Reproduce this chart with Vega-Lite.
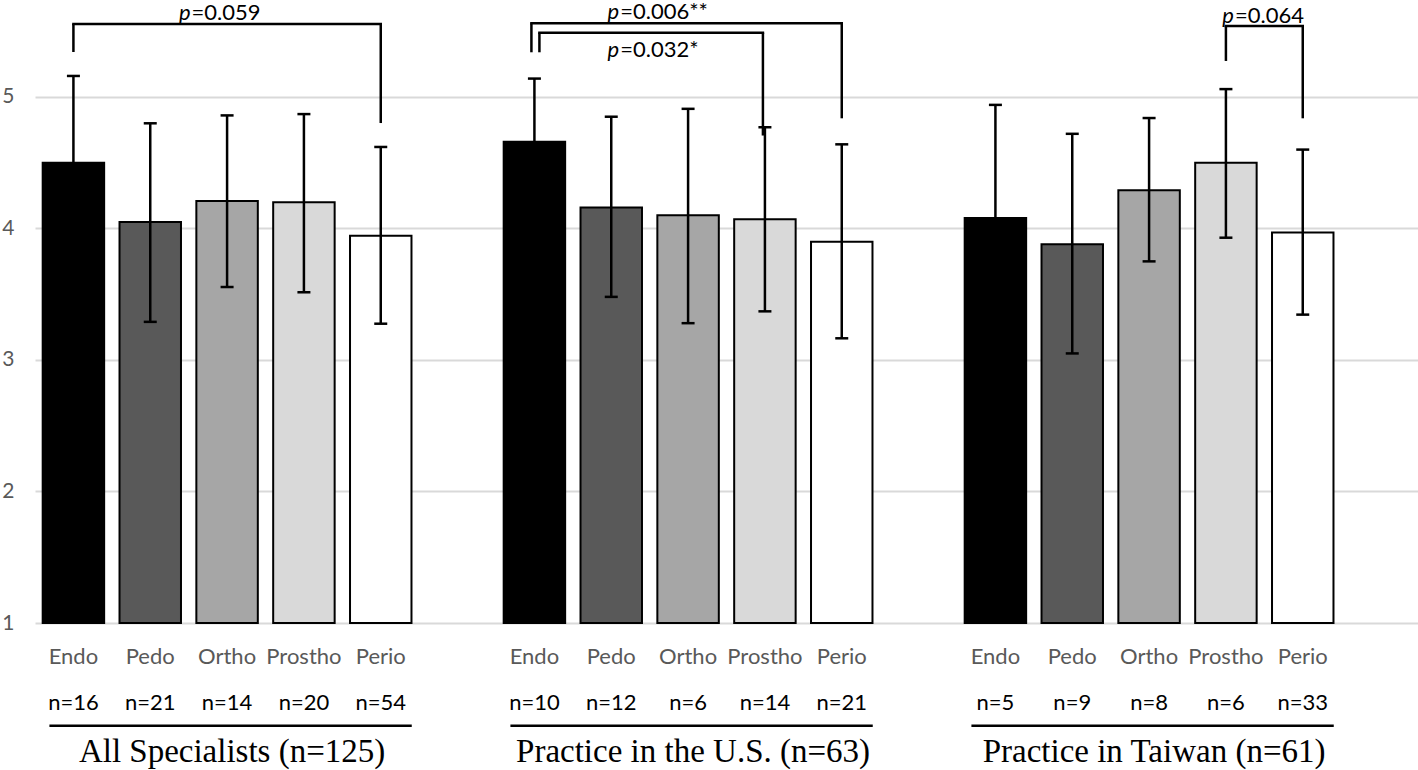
{
  "$schema": "https://vega.github.io/schema/vega-lite/v6.json",
  "width": 1383,
  "height": 623,
  "autosize": {"type": "none"},
  "padding": {"left": 35, "top": 0, "right": 0, "bottom": 147},
  "background": "white",
  "config": {"view": {"stroke": null}, "font": "Lato"},
  "datasets": {
    "bars": [
      {"group": "All Specialists", "specialty": "Endo", "n": 16, "mean": 4.50, "lo": 3.84, "hi": 5.16},
      {"group": "All Specialists", "specialty": "Pedo", "n": 21, "mean": 4.05, "lo": 3.29, "hi": 4.80},
      {"group": "All Specialists", "specialty": "Ortho", "n": 14, "mean": 4.21, "lo": 3.555, "hi": 4.86},
      {"group": "All Specialists", "specialty": "Prostho", "n": 20, "mean": 4.20, "lo": 3.515, "hi": 4.87},
      {"group": "All Specialists", "specialty": "Perio", "n": 54, "mean": 3.945, "lo": 3.276, "hi": 4.62},
      {"group": "Practice in the U.S.", "specialty": "Endo", "n": 10, "mean": 4.66, "lo": 4.18, "hi": 5.14},
      {"group": "Practice in the U.S.", "specialty": "Pedo", "n": 12, "mean": 4.16, "lo": 3.48, "hi": 4.85},
      {"group": "Practice in the U.S.", "specialty": "Ortho", "n": 6, "mean": 4.10, "lo": 3.28, "hi": 4.91},
      {"group": "Practice in the U.S.", "specialty": "Prostho", "n": 14, "mean": 4.07, "lo": 3.37, "hi": 4.77},
      {"group": "Practice in the U.S.", "specialty": "Perio", "n": 21, "mean": 3.90, "lo": 3.165, "hi": 4.64},
      {"group": "Practice in Taiwan", "specialty": "Endo", "n": 5, "mean": 4.08, "lo": 3.21, "hi": 4.94},
      {"group": "Practice in Taiwan", "specialty": "Pedo", "n": 9, "mean": 3.88, "lo": 3.05, "hi": 4.72},
      {"group": "Practice in Taiwan", "specialty": "Ortho", "n": 8, "mean": 4.29, "lo": 3.75, "hi": 4.84},
      {"group": "Practice in Taiwan", "specialty": "Prostho", "n": 6, "mean": 4.50, "lo": 3.93, "hi": 5.06},
      {"group": "Practice in Taiwan", "specialty": "Perio", "n": 33, "mean": 3.97, "lo": 3.345, "hi": 4.60}
    ],
    "groups": [
      {"group": "All Specialists", "title": "All Specialists (n=125)", "first": "All Specialists|Endo", "mid": "All Specialists|Ortho", "last": "All Specialists|Perio"},
      {"group": "Practice in the U.S.", "title": "Practice in the U.S. (n=63)", "first": "Practice in the U.S.|Endo", "mid": "Practice in the U.S.|Ortho", "last": "Practice in the U.S.|Perio"},
      {"group": "Practice in Taiwan", "title": "Practice in Taiwan (n=61)", "first": "Practice in Taiwan|Endo", "mid": "Practice in Taiwan|Ortho", "last": "Practice in Taiwan|Perio"}
    ],
    "brackets": [
      {"group": "All Specialists", "shift": "none", "from": "All Specialists|Endo", "to": "All Specialists|Perio", "top": 5.555, "fromEnd": 5.342, "toEnd": 4.802, "label": "=0.059", "textAt": "All Specialists|Ortho", "textY": 5.588},
      {"group": "Practice in the U.S.", "shift": "outer", "from": "Practice in the U.S.|Endo", "to": "Practice in the U.S.|Perio", "top": 5.560, "fromEnd": 5.340, "toEnd": 4.838, "label": "=0.006**", "textAt": "Practice in the U.S.|Pedo", "textY": 5.592},
      {"group": "Practice in the U.S.", "shift": "inner", "from": "Practice in the U.S.|Endo", "to": "Practice in the U.S.|Prostho", "top": 5.489, "fromEnd": 5.340, "toEnd": 4.707, "label": "=0.032*", "textAt": "Practice in the U.S.|Pedo", "textY": 5.307},
      {"group": "Practice in Taiwan", "shift": "none", "from": "Practice in Taiwan|Prostho", "to": "Practice in Taiwan|Perio", "top": 5.540, "fromEnd": 5.274, "toEnd": 4.838, "label": "=0.064", "textAt": "Practice in Taiwan|Prostho", "textY": 5.565}
    ]
  },
  "layer": [
    {
      "data": {"name": "bars"},
      "transform": [{"calculate": "datum.group + '|' + datum.specialty", "as": "key"}],
      "layer": [
        {
          "mark": {"type": "bar", "stroke": "black", "strokeWidth": 2},
          "encoding": {
            "x": {"field": "key", "type": "nominal", "axis": null, "sort": null,
              "scale": {"domain": ["All Specialists|Endo","All Specialists|Pedo","All Specialists|Ortho","All Specialists|Prostho","All Specialists|Perio","gap1","Practice in the U.S.|Endo","Practice in the U.S.|Pedo","Practice in the U.S.|Ortho","Practice in the U.S.|Prostho","Practice in the U.S.|Perio","gap2","Practice in Taiwan|Endo","Practice in Taiwan|Pedo","Practice in Taiwan|Ortho","Practice in Taiwan|Prostho","Practice in Taiwan|Perio","gap3"], "paddingInner": 0.2, "paddingOuter": 0.1}},
            "y": {"field": "mean", "type": "quantitative",
              "scale": {"domain": [1, 5.7376], "nice": false, "zero": false},
              "axis": {"values": [1, 2, 3, 4, 5], "format": "d", "grid": true, "gridColor": "#d9d9d9", "gridWidth": 2, "domain": false, "ticks": false, "labelColor": "#595959", "labelFontSize": 21, "labelFont": "Lato", "labelPadding": 21, "title": null}},
            "y2": {"datum": 1},
            "color": {"field": "specialty", "type": "nominal", "legend": null,
              "scale": {"domain": ["Endo", "Pedo", "Ortho", "Prostho", "Perio"], "range": ["#000000", "#595959", "#a6a6a6", "#d9d9d9", "#ffffff"]}}
          }
        },
        {
          "mark": {"type": "rule", "color": "black", "strokeWidth": 2.5},
          "encoding": {
            "x": {"field": "key", "type": "nominal"},
            "y": {"field": "lo", "type": "quantitative"},
            "y2": {"field": "hi"}
          }
        },
        {
          "mark": {"type": "rule", "color": "black", "strokeWidth": 2.5, "xOffset": -6.5, "x2Offset": 6.5},
          "encoding": {
            "x": {"field": "key", "type": "nominal"},
            "x2": {"field": "key"},
            "y": {"field": "hi", "type": "quantitative"}
          }
        },
        {
          "mark": {"type": "rule", "color": "black", "strokeWidth": 2.5, "xOffset": -6.5, "x2Offset": 6.5},
          "encoding": {
            "x": {"field": "key", "type": "nominal"},
            "x2": {"field": "key"},
            "y": {"field": "lo", "type": "quantitative"}
          }
        },
        {
          "mark": {"type": "text", "baseline": "alphabetic", "align": "center", "fontSize": 22, "color": "#595959", "font": "Lato"},
          "encoding": {
            "x": {"field": "key", "type": "nominal"},
            "y": {"datum": 0.688},
            "text": {"field": "specialty"}
          }
        },
        {
          "transform": [{"calculate": "'n=' + datum.n", "as": "nLabel"}],
          "mark": {"type": "text", "baseline": "alphabetic", "align": "center", "fontSize": 22, "color": "black", "font": "Lato"},
          "encoding": {
            "x": {"field": "key", "type": "nominal"},
            "y": {"datum": 0.338},
            "text": {"field": "nLabel"}
          }
        }
      ]
    },
    {
      "data": {"name": "groups"},
      "layer": [
        {
          "mark": {"type": "rule", "color": "black", "strokeWidth": 2.5, "xOffset": -24, "x2Offset": 31},
          "encoding": {
            "x": {"field": "first", "type": "nominal"},
            "x2": {"field": "last"},
            "y": {"datum": 0.219}
          }
        },
        {
          "mark": {"type": "text", "baseline": "alphabetic", "align": "center", "fontSize": 33, "color": "black", "font": "Liberation Serif", "dx": 5},
          "encoding": {
            "x": {"field": "mid", "type": "nominal"},
            "y": {"datum": -0.0548},
            "text": {"field": "title"}
          }
        }
      ]
    },
    {
      "data": {"name": "brackets"},
      "layer": [
        {
          "transform": [{"filter": "datum.shift == 'none'"}],
          "mark": {"type": "rule", "color": "black", "strokeWidth": 2.5, "strokeCap": "square"},
          "encoding": {"x": {"field": "from", "type": "nominal"}, "x2": {"field": "to"}, "y": {"field": "top", "type": "quantitative"}}
        },
        {
          "transform": [{"filter": "datum.shift == 'none'"}],
          "mark": {"type": "rule", "color": "black", "strokeWidth": 2.5},
          "encoding": {"x": {"field": "from", "type": "nominal"}, "y": {"field": "top", "type": "quantitative"}, "y2": {"field": "fromEnd"}}
        },
        {
          "transform": [{"filter": "datum.shift == 'outer'"}],
          "mark": {"type": "rule", "color": "black", "strokeWidth": 2.5, "strokeCap": "square", "xOffset": -3},
          "encoding": {"x": {"field": "from", "type": "nominal"}, "x2": {"field": "to"}, "y": {"field": "top", "type": "quantitative"}}
        },
        {
          "transform": [{"filter": "datum.shift == 'outer'"}],
          "mark": {"type": "rule", "color": "black", "strokeWidth": 2.5, "xOffset": -3},
          "encoding": {"x": {"field": "from", "type": "nominal"}, "y": {"field": "top", "type": "quantitative"}, "y2": {"field": "fromEnd"}}
        },
        {
          "transform": [{"filter": "datum.shift == 'inner'"}],
          "mark": {"type": "rule", "color": "black", "strokeWidth": 2.5, "strokeCap": "square", "xOffset": 5, "x2Offset": -2},
          "encoding": {"x": {"field": "from", "type": "nominal"}, "x2": {"field": "to"}, "y": {"field": "top", "type": "quantitative"}}
        },
        {
          "transform": [{"filter": "datum.shift == 'inner'"}],
          "mark": {"type": "rule", "color": "black", "strokeWidth": 2.5, "xOffset": 5},
          "encoding": {"x": {"field": "from", "type": "nominal"}, "y": {"field": "top", "type": "quantitative"}, "y2": {"field": "fromEnd"}}
        },
        {
          "transform": [{"filter": "datum.shift != 'inner'"}],
          "mark": {"type": "rule", "color": "black", "strokeWidth": 2.5},
          "encoding": {"x": {"field": "to", "type": "nominal"}, "y": {"field": "top", "type": "quantitative"}, "y2": {"field": "toEnd"}}
        },
        {
          "transform": [{"filter": "datum.shift == 'inner'"}],
          "mark": {"type": "rule", "color": "black", "strokeWidth": 2.5, "xOffset": -2},
          "encoding": {"x": {"field": "to", "type": "nominal"}, "y": {"field": "top", "type": "quantitative"}, "y2": {"field": "toEnd"}}
        },
        {
          "transform": [{"filter": "datum.group == 'All Specialists'"}],
          "mark": {"type": "text", "baseline": "alphabetic", "align": "right", "fontSize": 22, "fontStyle": "italic", "color": "black", "font": "Lato", "dx": -36.5},
          "encoding": {"x": {"field": "textAt", "type": "nominal"}, "y": {"field": "textY", "type": "quantitative"}, "text": {"value": "p"}}
        },
        {
          "transform": [{"filter": "datum.group == 'All Specialists'"}],
          "mark": {"type": "text", "baseline": "alphabetic", "align": "left", "fontSize": 22, "color": "black", "font": "Lato", "dx": -35.5},
          "encoding": {"x": {"field": "textAt", "type": "nominal"}, "y": {"field": "textY", "type": "quantitative"}, "text": {"field": "label"}}
        },
        {
          "transform": [{"filter": "datum.group != 'All Specialists'"}],
          "mark": {"type": "text", "baseline": "alphabetic", "align": "right", "fontSize": 22, "fontStyle": "italic", "color": "black", "font": "Lato", "dx": 8},
          "encoding": {"x": {"field": "textAt", "type": "nominal"}, "y": {"field": "textY", "type": "quantitative"}, "text": {"value": "p"}}
        },
        {
          "transform": [{"filter": "datum.group != 'All Specialists'"}],
          "mark": {"type": "text", "baseline": "alphabetic", "align": "left", "fontSize": 22, "color": "black", "font": "Lato", "dx": 9},
          "encoding": {"x": {"field": "textAt", "type": "nominal"}, "y": {"field": "textY", "type": "quantitative"}, "text": {"field": "label"}}
        }
      ]
    }
  ]
}
